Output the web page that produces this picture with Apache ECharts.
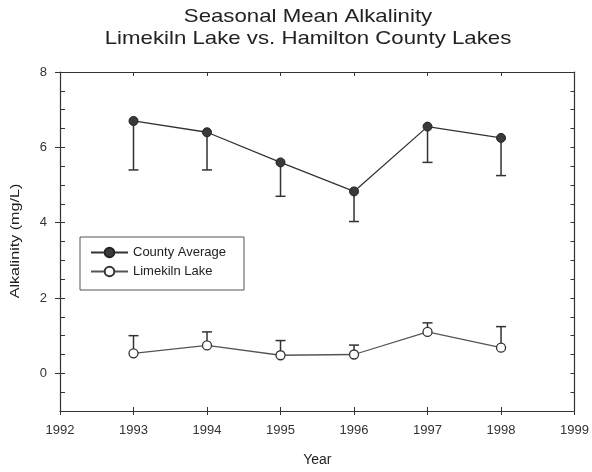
<!DOCTYPE html>
<html>
<head>
<meta charset="utf-8">
<script src="https://cdn.jsdelivr.net/npm/echarts@6/dist/echarts.min.js"></script>
<style>
  html, body { margin: 0; padding: 0; background: #fff; }
  #chart { width: 592px; height: 472px; }
</style>
</head>
<body>
<div id="chart"></div>
<script>
  // values
  const years = [1993, 1994, 1995, 1996, 1997, 1998];
  const countyMean = [6.7, 6.4, 5.6, 4.83, 6.55, 6.25];
  const countyLower = [5.4, 5.4, 4.7, 4.03, 5.6, 5.25];
  const lakeMean = [0.53, 0.74, 0.48, 0.5, 1.1, 0.68];
  const lakeUpper = [1.0, 1.1, 0.87, 0.75, 1.34, 1.24];
  const yLabels = [0, 2, 4, 6, 8];
  const yHalfSteps = [-0.5, 0, 0.5, 1, 1.5, 2, 2.5, 3, 3.5, 4, 4.5, 5, 5.5, 6, 6.5, 7, 7.5];

  const ink = '#333';
  const font = 'Liberation Sans, Arial, sans-serif';

  function errorBars(means, ends) {
    return {
      type: 'custom',
      xAxisIndex: 0,
      yAxisIndex: 0,
      z: 1,
      silent: true,
      data: years.map((y, i) => [y, means[i], ends[i]]),
      renderItem: function (params, api) {
        const a = api.coord([api.value(0), api.value(1)]);
        const b = api.coord([api.value(0), api.value(2)]);
        const st = { stroke: ink, lineWidth: 1.5 };
        return {
          type: 'group',
          children: [
            { type: 'line', shape: { x1: a[0], y1: a[1], x2: b[0], y2: b[1] }, style: st },
            { type: 'line', shape: { x1: b[0] - 5, y1: b[1], x2: b[0] + 5, y2: b[1] }, style: st }
          ]
        };
      }
    };
  }

  const titleStyle = { fontSize: 19, fill: '#222', fontFamily: font, align: 'center', verticalAlign: 'middle' };

  const chart = echarts.init(document.getElementById('chart'));
  chart.setOption({
    backgroundColor: '#fff',
    animation: false,
    textStyle: { fontFamily: font },
    grid: { left: 60, right: 17, top: 72, bottom: 59 },
    legend: {
      orient: 'vertical',
      left: 80,
      top: 237,
      padding: [9, 18, 12, 10],
      itemGap: 6,
      itemWidth: 37,
      itemHeight: 12,
      borderColor: '#555',
      borderWidth: 1,
      textStyle: { fontSize: 13, color: '#222', fontFamily: font },
      data: ['County Average', 'Limekiln Lake']
    },
    graphic: [{
      type: 'text', x: 308, y: 17, scaleX: 1.17,
      style: Object.assign({ text: 'Seasonal Mean Alkalinity' }, titleStyle)
    }, {
      type: 'text', x: 308, y: 39, scaleX: 1.17,
      style: Object.assign({ text: 'Limekiln Lake vs. Hamilton County Lakes' }, titleStyle)
    }, {
      type: 'text',
      x: 15,
      y: 241,
      rotation: Math.PI / 2,
      scaleX: 1.24,
      style: {
        text: 'Alkalinity (mg/L)',
        fontSize: 13,
        fill: '#222',
        fontFamily: font,
        align: 'center',
        verticalAlign: 'middle'
      }
    }],
    xAxis: [{
      type: 'value',
      min: 1992,
      max: 1999,
      interval: 1,
      position: 'bottom',
      name: 'Year',
      nameLocation: 'middle',
      nameGap: 42,
      nameTextStyle: { fontSize: 14, color: '#222', fontFamily: font },
      axisLine: { show: true, onZero: false, lineStyle: { color: ink, width: 1.2 } },
      axisTick: { show: true, inside: false, length: 4, lineStyle: { color: ink } },
      axisLabel: { fontSize: 13, color: ink, margin: 13, formatter: v => String(v) },
      splitLine: { show: false }
    }, {
      type: 'value',
      min: 1992,
      max: 1999,
      interval: 1,
      position: 'bottom',
      axisLine: { show: false, onZero: false },
      axisTick: { show: true, inside: true, length: 4, lineStyle: { color: ink } },
      axisLabel: { show: false },
      splitLine: { show: false }
    }, {
      type: 'value',
      min: 1992,
      max: 1999,
      interval: 1,
      position: 'top',
      axisLine: { show: true, onZero: false, lineStyle: { color: ink, width: 1.2 } },
      axisTick: { show: true, inside: true, length: 4, lineStyle: { color: ink } },
      axisLabel: { show: false },
      splitLine: { show: false }
    }],
    yAxis: [{
      type: 'value',
      min: -1,
      max: 8,
      position: 'left',
      axisLine: { show: true, onZero: false, lineStyle: { color: ink, width: 1.2 } },
      axisTick: { show: true, inside: false, length: 5, customValues: yLabels, lineStyle: { color: ink } },
      axisLabel: { fontSize: 13, color: ink, margin: 13, customValues: yLabels },
      splitLine: { show: false }
    }, {
      type: 'value',
      min: -1,
      max: 8,
      position: 'left',
      axisLine: { show: false, onZero: false },
      axisTick: { show: true, inside: true, length: 5, customValues: yHalfSteps, lineStyle: { color: ink } },
      axisLabel: { show: false },
      splitLine: { show: false }
    }, {
      type: 'value',
      min: -1,
      max: 8,
      position: 'right',
      axisLine: { show: true, onZero: false, lineStyle: { color: ink, width: 1.2 } },
      axisTick: { show: true, inside: true, length: 4, customValues: yHalfSteps, lineStyle: { color: ink } },
      axisLabel: { show: false },
      splitLine: { show: false }
    }],
    series: [
      errorBars(countyMean, countyLower),
      errorBars(lakeMean, lakeUpper),
      {
        name: 'County Average',
        type: 'line',
        z: 3,
        data: years.map((y, i) => [y, countyMean[i]]),
        symbol: 'circle',
        symbolSize: 9,
        lineStyle: { color: ink, width: 1.3 },
        itemStyle: { color: '#3a3a3a', borderColor: '#222', borderWidth: 1 }
      },
      {
        name: 'Limekiln Lake',
        type: 'line',
        z: 3,
        data: years.map((y, i) => [y, lakeMean[i]]),
        symbol: 'circle',
        symbolSize: 9,
        lineStyle: { color: '#555', width: 1.3 },
        itemStyle: { color: '#fff', borderColor: '#333', borderWidth: 1.3 }
      }
    ]
  });
</script>
</body>
</html>
